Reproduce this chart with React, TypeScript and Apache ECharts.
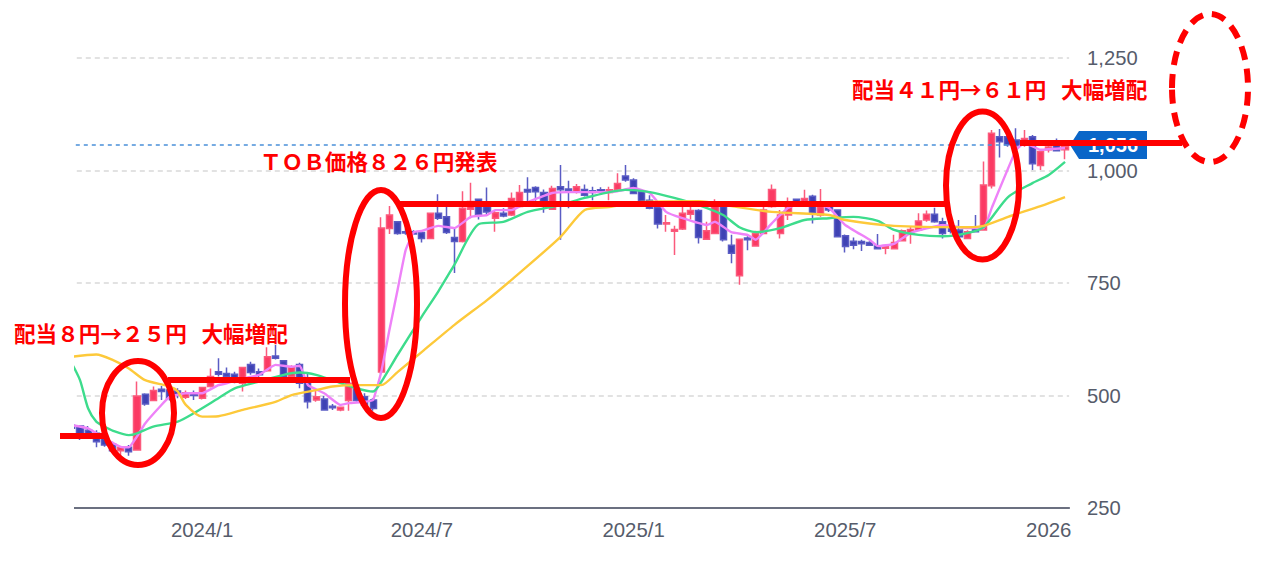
import React, { useEffect, useRef } from "react";
import * as echarts from "echarts";

const ohlc: number[][] = [
  [434,427,423,442],[432,414,401,434],[423,414,410,432],[416,397,385,423],[405,390,386,416],[392,377,373,397],[377,385,366,386],[385,375,366,390],
  [379,499,377,531],[503,481,477,505],[489,511,487,520],[514,509,490,521],[512,494,489,517],[510,501,494,516],[496,506,492,511],[505,500,490,511],
  [494,518,491,519],[520,542,518,560],[553,547,542,583],[549,542,538,562],[547,538,527,553],[527,562,509,562],[569,551,546,575],[553,546,540,560],
  [555,586,553,607],[588,583,580,612],[577,542,540,578],[542,564,540,567],[569,527,516,573],[531,486,471,549],[490,497,486,510],[492,468,466,499],
  [476,473,468,481],[468,474,465,475],[489,527,466,534],[516,489,486,520],[497,479,475,505],[490,471,466,494],[552,872,548,896],[871,901,859,921],
  [886,860,857,888],[864,861,857,871],[864,859,857,867],[862,849,840,865],[849,905,848,906],[905,894,890,947],[897,862,859,920],[851,842,772,871],
  [842,916,840,954],[914,931,894,973],[936,901,891,938],[920,908,899,962],[894,906,864,912],[905,899,896,916],[901,938,899,951],[920,951,918,968],
  [958,952,931,985],[962,953,933,965],[951,931,906,958],[914,960,912,966],[964,957,846,1012],[959,955,916,977],[953,964,949,970],[958,945,942,969],
  [955,951,934,964],[957,952,946,963],[951,957,934,964],[957,971,955,994],[988,979,975,1012],[979,949,948,983],[953,931,927,957],[934,916,914,945],
  [918,881,871,927],[881,884,864,901],[865,869,812,877],[870,905,868,921],[903,911,891,920],[911,851,838,914],[847,866,846,886],[860,930,859,936],
  [920,846,842,927],[834,816,794,857],[766,847,746,849],[850,846,823,854],[832,860,831,866],[860,912,859,927],[920,958,917,969],[860,901,849,912],
  [901,919,890,940],[936,927,923,938],[928,938,923,957],[943,905,882,946],[901,920,897,959],[920,912,908,923],[912,853,851,914],[855,831,818,858],
  [843,834,825,851],[842,837,821,846],[840,834,832,843],[832,826,825,859],[827,831,814,834],[826,840,825,857],[844,866,843,869],[860,869,837,875],
  [868,888,866,905],[890,903,886,911],[903,886,884,917],[886,860,849,895],[875,865,860,885],[868,853,842,890],[849,864,847,867],[871,864,862,901],
  [868,968,866,1020],[966,1083,960,1090],[1075,1064,1029,1092],[1075,1057,1053,1083],[1068,1055,1053,1094],[1064,1071,1053,1090],[1075,1015,1001,1079],
  [1011,1042,1001,1046],[1046,1052,1040,1057],[1057,1044,1042,1071],[1046,1053,1025,1064],
];

const maShort: number[][] = [
  [0,434],[2,427],[4,405],[6,386],[7,385],[8,409],[9,438],[11,479],[12,497],[14,505],[16,505],[18,523],[19,527],[21,538],[23,546],[25,568],[27,564],[28,566],
  [29,523],[31,505],[33,479],[34,483],[36,486],[37,490],[38,552],[39,645],[40,734],[41,823],[42,863],[43,866],[45,877],[47,872],[49,897],[51,901],[52,912],
  [54,912],[56,930],[59,950],[61,952],[65,952],[67,954],[69,961],[71,950],[73,908],[75,894],[78,879],[79,886],[81,863],[83,857],[84,846],[86,883],[88,917],
  [90,930],[93,917],[95,879],[98,846],[99,832],[101,837],[103,861],[107,879],[110,872],[112,872],[113,917],[116,1046],[117,1061],[119,1046],[122,1050],
];
const maMid: number[][] = [
  [0,571],[1,534],[2,471],[3,442],[4,431],[5,422],[7,412],[8,416],[10,431],[13,442],[15,461],[18,494],[20,516],[23,531],[26,546],[28,551],[30,546],[32,534],
  [35,516],[37,509],[38,530],[40,590],[43,676],[45,731],[47,791],[50,881],[53,886],[56,908],[60,923],[63,939],[68,957],[71,952],[74,939],[77,923],[80,901],
  [82,874],[84,863],[87,872],[90,890],[93,894],[96,897],[99,888],[101,868],[104,857],[107,854],[110,861],[112,874],[115,941],[118,972],[120,990],[122,1019],
];
const maLong: number[][] = [
  [0,586],[3,591],[5,579],[7,560],[9,534],[12,520],[13,509],[14,479],[16,453],[18,454],[21,468],[25,486],[27,501],[30,512],[32,520],[35,523],[37,523],[38,523],
  [40,552],[43,597],[47,657],[51,712],[54,757],[60,852],[63,912],[66,919],[70,930],[77,932],[81,921],[86,908],[93,901],[95,890],[101,877],[110,874],[112,877],
  [115,897],[119,921],[122,941],
];

const tickIndexes = [16, 43, 69, 95, 120];
const tickLabels = ["2024/1", "2024/7", "2025/1", "2025/7", "2026"];
const weeks = ohlc.map((_, i) => `W${i}`);
const lastPrice = 1056.7;
const lastPriceLabel = "1,056";

const noteDividend1 = "配当８円→２５円   大幅増配";
const noteTob = "ＴＯＢ価格８２６円発表";
const noteDividend2 = "配当４１円→６１円   大幅増配";

const RED = "#ff0000";
const cjk = '"Noto Sans CJK JP", sans-serif';

function note(text: string, x: number, y: number) {
  return { type: "text", z: 110, x, y, style: { text, fill: RED, font: `bold 21.6px ${cjk}`, textVerticalAlign: "middle" } };
}
function bar(x1: number, x2: number, y: number) {
  return { type: "line", z: 105, shape: { x1, y1: y, x2, y2: y }, style: { stroke: RED, lineWidth: 6 } };
}
function oval(cx: number, cy: number, rx: number, ry: number, dash?: number[]) {
  return { type: "ellipse", z: 105, shape: { cx, cy, rx, ry }, style: { fill: "none", stroke: RED, lineWidth: 6, lineDash: dash } };
}

export default function App() {
  const ref = useRef<HTMLDivElement>(null);
  useEffect(() => {
    const chart = echarts.init(ref.current!, null, { renderer: "svg" });
    const maLine = (name: string, data: number[][], color: string, smooth: number) => ({
      name, type: "line", data, showSymbol: false, symbol: "none", smooth, z: 4,
      lineStyle: { color, width: 2.4 }, silent: true,
    });
    chart.setOption({
      animation: false,
      backgroundColor: "#fff",
      grid: { left: 67.8, right: 1261 - 1069.1, top: 58, bottom: 570 - 508 },
      xAxis: {
        type: "category", data: weeks, boundaryGap: true,
        axisLine: { lineStyle: { color: "#6b7080", width: 2 } },
        axisTick: { show: false },
        splitLine: { show: false },
        axisLabel: {
          interval: (i: number) => tickIndexes.includes(i),
          formatter: (_: string, i: number) => tickLabels[tickIndexes.indexOf(i)] ?? "",
          color: "#565c6b", fontSize: 20.4, fontFamily: "Liberation Sans", margin: 12, hideOverlap: false,
        },
      },
      yAxis: {
        type: "value", position: "right", min: 250, max: 1250, interval: 250, scale: true,
        axisLine: { show: false }, axisTick: { show: false },
        splitLine: { lineStyle: { color: "#e2e2e2", type: [5, 4], width: 2 } },
        axisLabel: {
          color: "#565c6b", fontSize: 20.2, fontFamily: "Liberation Sans", margin: 18,
          formatter: (v: number) => v.toLocaleString("en-US"),
        },
      },
      series: [
        {
          name: "price", type: "candlestick", data: ohlc, barWidth: 6.6, z: 3,
          itemStyle: { color: "#fb3a63", color0: "#3f42b4", borderColor: "#fb5a7c", borderColor0: "#5a5cc4", borderWidth: 1.5 },
          markLine: {
            silent: true, symbol: "none", animation: false, label: { show: false },
            lineStyle: { color: "#4a90d9", type: [4, 4], width: 1.5 },
            data: [{ yAxis: lastPrice }],
          },
        },
        maLine("short", maShort, "#ee82f8", 0.12),
        maLine("mid", maMid, "#3ddc8c", 0.25),
        maLine("long", maLong, "#fdc93a", 0.25),
      ],
      graphic: [
        { type: "rect", z: 100, shape: { x: 55, y: 40, width: 19, height: 480 }, style: { fill: "#fff" } },
        { type: "polygon", z: 101, shape: { points: [[1070, 145], [1079, 131], [1147, 131], [1147, 159], [1079, 159]] }, style: { fill: "#0a66c8" } },
        { type: "text", z: 102, x: 1113, y: 145, style: { text: lastPriceLabel, fill: "#fff", font: 'bold 20px "Liberation Sans"', textAlign: "center", textVerticalAlign: "middle" } },
        bar(60, 106, 436),
        bar(168, 350, 380),
        bar(400, 945, 204),
        bar(1020, 1182, 143),
        oval(138, 413, 36, 52),
        oval(381, 304, 36, 114),
        oval(982.5, 185.5, 36.5, 74),
        oval(1210, 88, 38, 74, [14, 9]),
        note(noteDividend1, 14, 332),
        note(noteTob, 260, 160),
        note(noteDividend2, 852, 88),
      ],
    });
    return () => chart.dispose();
  }, []);
  return <div ref={ref} style={{ position: "absolute", left: 0, top: 0, width: 1261, height: 570 }} />;
}
